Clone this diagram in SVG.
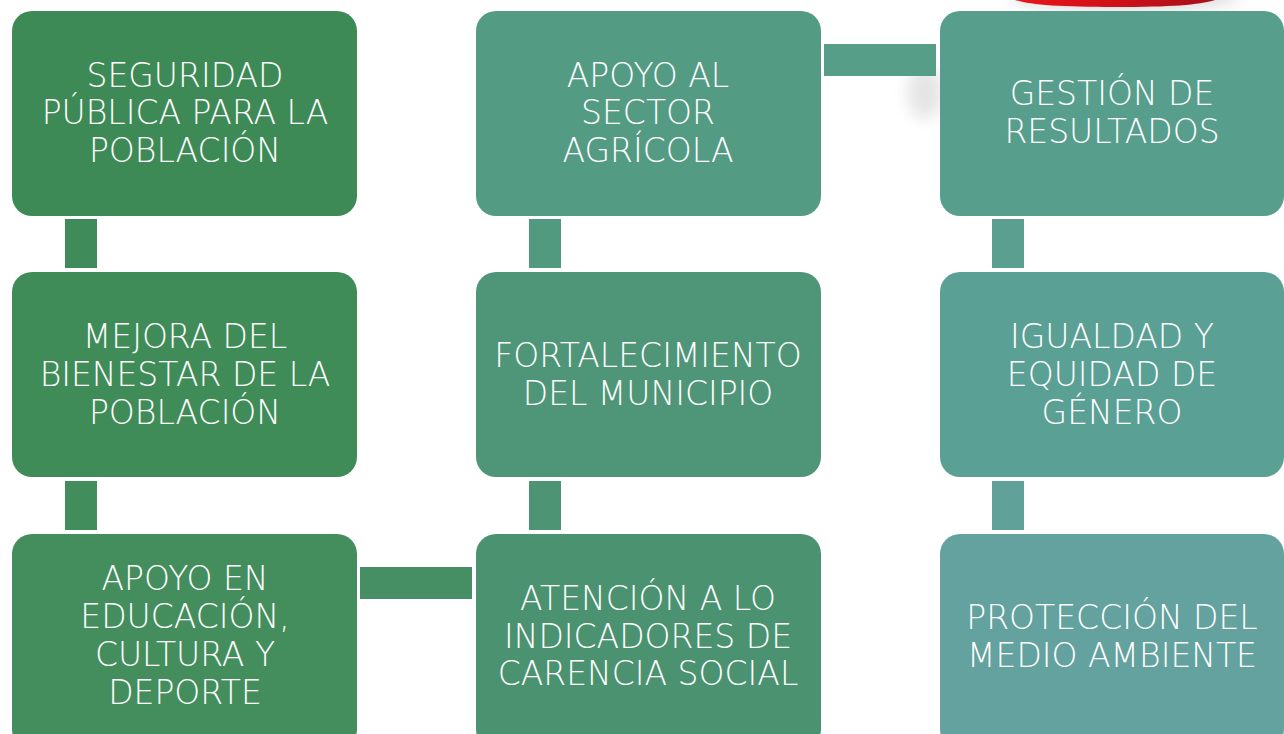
<svg xmlns="http://www.w3.org/2000/svg" width="1284" height="734" viewBox="0 0 1284 734">
<style>
.t{font-family:"DejaVu Sans","Liberation Sans",sans-serif;font-weight:200;font-size:33px;fill:#fff;text-anchor:middle}
</style>
<defs>
<linearGradient id="red" x1="0" y1="0" x2="1" y2="0">
<stop offset="0" stop-color="#e8141c"/><stop offset="0.5" stop-color="#d01018"/><stop offset="1" stop-color="#a3101a"/>
</linearGradient>
<filter id="blur" x="-50%" y="-50%" width="200%" height="200%"><feGaussianBlur stdDeviation="8"/></filter>
</defs>
<rect width="1284" height="734" fill="#fff"/>
<g id="decor">
<ellipse cx="1125" cy="-4" rx="115" ry="14" fill="#000" opacity="0.15" filter="url(#blur)"/>
<ellipse cx="925" cy="92" rx="18" ry="28" fill="#000" opacity="0.10" filter="url(#blur)"/>
<path d="M1015,0 L1215,0 C1198,5 1172,7 1115,7 C1060,7 1032,5 1015,0 Z" fill="url(#red)"/>
</g>
<g id="connectors">
<rect x="65" y="219" width="32" height="49" fill="#3f8b59"/>
<rect x="65" y="481" width="32" height="49" fill="#428d5c"/>
<rect x="360" y="567" width="112" height="32" fill="#468f64"/>
<rect x="529" y="481" width="32" height="49" fill="#4d9474"/>
<rect x="529" y="219" width="32" height="49" fill="#529a7f"/>
<rect x="824" y="44" width="112" height="32" fill="#579e89"/>
<rect x="992" y="219" width="32" height="49" fill="#5a9f90"/>
<rect x="992" y="481" width="32" height="49" fill="#60a199"/>
</g>
<g id="n1"><rect x="12" y="11" width="345" height="205" rx="20" fill="#3e8a56"/>
<text class="t"><tspan x="185" y="87">SEGURIDAD</tspan><tspan x="185" y="124">PÚBLICA PARA LA</tspan><tspan x="185" y="162">POBLACIÓN</tspan></text></g>
<g id="n2"><rect x="12" y="272" width="345" height="205" rx="20" fill="#408c59"/>
<text class="t"><tspan x="185" y="348">MEJORA DEL</tspan><tspan x="185" y="386">BIENESTAR DE LA</tspan><tspan x="185" y="424">POBLACIÓN</tspan></text></g>
<g id="n3"><rect x="12" y="534" width="345" height="215" rx="20" fill="#448e5e"/>
<text class="t"><tspan x="185" y="590">APOYO EN</tspan><tspan x="185" y="628">EDUCACIÓN,</tspan><tspan x="185" y="666">CULTURA Y</tspan><tspan x="185" y="704">DEPORTE</tspan></text></g>
<g id="n4"><rect x="476" y="534" width="345" height="215" rx="20" fill="#4a9270"/>
<text class="t"><tspan x="648" y="610">ATENCIÓN A LO</tspan><tspan x="648" y="648">INDICADORES DE</tspan><tspan x="648" y="685">CARENCIA SOCIAL</tspan></text></g>
<g id="n5"><rect x="476" y="272" width="345" height="205" rx="20" fill="#4f9678"/>
<text class="t"><tspan x="648" y="367">FORTALECIMIENTO</tspan><tspan x="648" y="405">DEL MUNICIPIO</tspan></text></g>
<g id="n6"><rect x="476" y="11" width="345" height="205" rx="20" fill="#549b84"/>
<text class="t"><tspan x="648" y="87">APOYO AL</tspan><tspan x="648" y="124">SECTOR</tspan><tspan x="648" y="162">AGRÍCOLA</tspan></text></g>
<g id="n7"><rect x="940" y="11" width="344" height="205" rx="20" fill="#579e8c"/>
<text class="t"><tspan x="1112" y="105">GESTIÓN DE</tspan><tspan x="1112" y="143">RESULTADOS</tspan></text></g>
<g id="n8"><rect x="940" y="272" width="344" height="205" rx="20" fill="#5ba094"/>
<text class="t"><tspan x="1112" y="348">IGUALDAD Y</tspan><tspan x="1112" y="386">EQUIDAD DE</tspan><tspan x="1112" y="424">GÉNERO</tspan></text></g>
<g id="n9"><rect x="940" y="534" width="344" height="215" rx="20" fill="#63a29e"/>
<text class="t"><tspan x="1112" y="629">PROTECCIÓN DEL</tspan><tspan x="1112" y="667">MEDIO AMBIENTE</tspan></text></g>
</svg>
